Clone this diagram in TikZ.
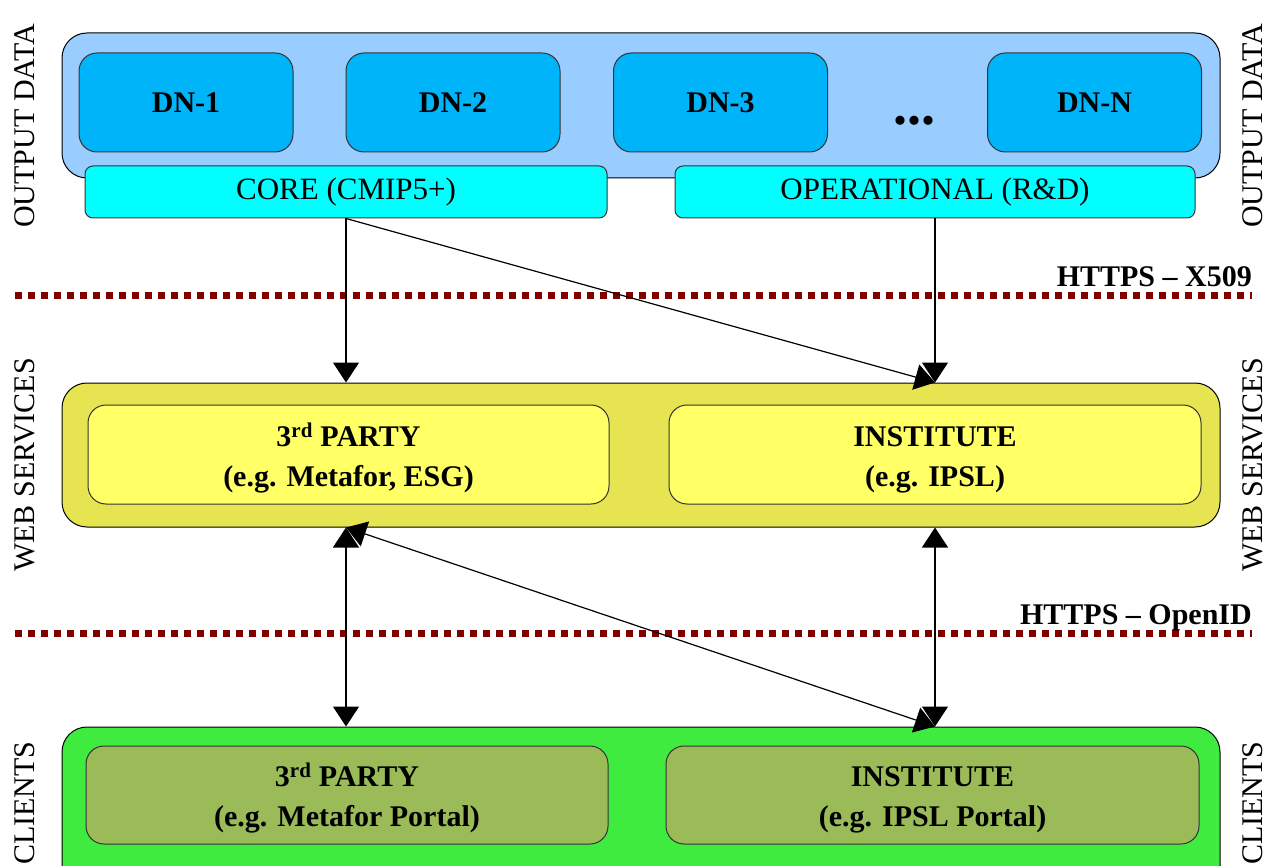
\documentclass[tikz,border=0pt]{standalone}
\usepackage{fontspec}
\setmainfont{Liberation Serif}
\usepackage{tikz}
\usetikzlibrary{arrows.meta}

\definecolor{outblue}{RGB}{153,204,255}
\definecolor{dnblue}{RGB}{0,180,250}
\definecolor{corecyan}{RGB}{0,255,255}
\definecolor{wsouter}{RGB}{230,228,80}
\definecolor{wsinner}{RGB}{255,255,102}
\definecolor{clouter}{RGB}{64,235,64}
\definecolor{clinner}{RGB}{155,187,89}
\definecolor{secred}{RGB}{128,0,0}

\newcommand{\topline}{\rule{0pt}{30pt}}

\begin{document}
\begin{tikzpicture}[x=1pt,y=-1pt,
  layer/.style={draw=black,line width=1pt,rounded corners=25pt,inner sep=0pt,
    minimum width=1158pt},
  dnbox/.style={draw=black!80,line width=1pt,fill=dnblue,rounded corners=18pt,
    minimum width=214pt,minimum height=99pt,inner sep=0pt,
    font=\fontsize{30}{36}\selectfont\bfseries},
  tierbox/.style={draw=black!80,line width=1pt,fill=corecyan,rounded corners=8pt,
    minimum height=52pt,inner sep=0pt,font=\fontsize{31}{34}\selectfont},
  partbox/.style={draw=black!80,line width=1pt,rounded corners=18pt,
    minimum height=99pt,inner sep=0pt,align=center,
    font=\fontsize{30}{40}\selectfont\bfseries},
  side/.style={rotate=90,anchor=base,inner sep=0pt,font=\fontsize{30}{34}\selectfont},
  secline/.style={secred,line width=7pt,dash pattern=on 7pt off 6pt},
  seclabel/.style={anchor=base east,inner sep=0pt,font=\fontsize{30}{34}\selectfont\bfseries},
  link/.style={line width=1.2pt,-{Triangle[length=20pt,width=26pt]}},
  dlink/.style={line width=1.2pt,{Triangle[length=20pt,width=26pt]}-{Triangle[length=20pt,width=26pt]}}]
\useasboundingbox (0,0) rectangle (1268,866);
\clip (0,0) rectangle (1268,866);

% output data
\node[layer,fill=outblue,minimum height=145pt] (out) at (641,105.5) {};
\node[dnbox] (dn1) at (186,102.5) {DN-1};
\node[dnbox] (dn2) at (453,102.5) {DN-2};
\node[dnbox] (dn3) at (720.5,102.5) {DN-3};
\node[anchor=base,inner sep=0pt,font=\fontsize{56}{56}\selectfont\bfseries] (dots) at (914,124.5) {...};
\node[dnbox] (dnn) at (1094.5,102.5) {DN-N};
\node[tierbox,minimum width=522pt] (core) at (346,192) {CORE (CMIP5+)};
\node[tierbox,minimum width=520pt] (oper) at (935,192) {OPERATIONAL (R\&D)};

% web services
\node[layer,fill=wsouter,minimum height=144pt] (ws) at (641,455) {};
\node[partbox,fill=wsinner,minimum width=521pt] (wsa) at (348.5,454.5)
  {\topline 3\textsuperscript{rd} PARTY\\(e.g. Metafor, ESG)};
\node[partbox,fill=wsinner,minimum width=532pt] (wsb) at (935,454.5)
  {\topline INSTITUTE\\(e.g. IPSL)};

% clients
\node[layer,fill=clouter,minimum height=168pt] (cl) at (641,811) {};
\node[partbox,fill=clinner,minimum width=522pt,minimum height=98pt] (cla) at (347,795)
  {\topline 3\textsuperscript{rd} PARTY\\(e.g. Metafor Portal)};
\node[partbox,fill=clinner,minimum width=533pt,minimum height=98pt] (clb) at (932.5,795)
  {\topline INSTITUTE\\(e.g. IPSL Portal)};

% side labels
\node[side] (lout) at (34,126) {OUTPUT DATA};
\node[side] (rout) at (1262,126) {OUTPUT DATA};
\node[side] (lws) at (34,465) {WEB SERVICES};
\node[side] (rws) at (1262,465) {WEB SERVICES};
\node[side] (lcl) at (34,803) {CLIENTS};
\node[side] (rcl) at (1262,803) {CLIENTS};

% security layers
\coordinate (s1a) at (15,296);
\coordinate (s1b) at (1252,296);
\coordinate (s2a) at (15,633);
\coordinate (s2b) at (1252,633);
\draw[secline] (s1a) -- (s1b);
\draw[secline] (s2a) -- (s2b);
\node[seclabel] (x509) at (1252,287) {HTTPS -- X509};
\node[seclabel] (openid) at (1252,624) {HTTPS -- OpenID};

% connectors
\draw[link] (core.south) -- (core.south |- ws.north);
\draw[link] (core.south) -- (oper.south |- ws.north);
\draw[link] (oper.south) -- (oper.south |- ws.north);
\draw[dlink] (core.south |- ws.south) -- (core.south |- cl.north);
\draw[dlink] (core.south |- ws.south) -- (oper.south |- cl.north);
\draw[dlink] (oper.south |- ws.south) -- (oper.south |- cl.north);
\end{tikzpicture}
\end{document}
